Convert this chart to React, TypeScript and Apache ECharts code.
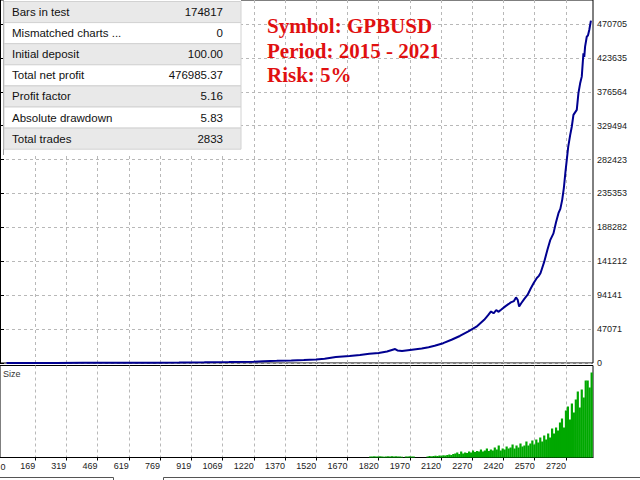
import React, { useEffect, useRef } from "react";
import * as echarts from "echarts";

// ---- data ----
const statLabels = [
  "Bars in test",
  "Mismatched charts ...",
  "Initial deposit",
  "Total net profit",
  "Profit factor",
  "Absolute drawdown",
  "Total trades",
];
const statValues = ["174817", "0", "100.00", "476985.37", "5.16", "5.83", "2833"];

const titleLines = ["Symbol: GPBUSD", "Period: 2015 - 2021", "Risk: 5%"];

const yTicks = [0, 47071, 94141, 141212, 188282, 235353, 282423, 329494, 376564, 423635, 470705];
const xTicks = [169, 319, 469, 619, 769, 919, 1069, 1220, 1370, 1520, 1670, 1820, 1970, 2120, 2270, 2420, 2570, 2720];
const xFirstLabel = "0";

// balance curve: trade number / balance
const eqTrades = [
  31, 150, 269, 400, 506, 620, 744, 860, 982, 1100, 1219, 1267, 1330, 1400, 1460, 1519, 1560, 1614,
  1680, 1730, 1775, 1820, 1860, 1899, 1910, 1932, 1980, 2027, 2060, 2089, 2130, 2170, 2210, 2251,
  2290, 2327, 2345, 2360, 2372, 2385, 2395, 2408, 2430, 2445, 2455, 2470, 2480, 2488, 2495, 2505,
  2520, 2536, 2550, 2565, 2580, 2590, 2598, 2615, 2631, 2645, 2660, 2672, 2684, 2693, 2702, 2710,
  2717, 2731, 2740, 2748, 2756, 2764, 2772, 2780, 2788, 2796, 2804, 2808, 2812, 2820, 2826, 2832, 2840,
];
const eqValues = [
  100, 120, 150, 210, 280, 380, 520, 700, 950, 1300, 1800, 2600, 3000, 3500, 4200, 5000, 6000, 8300,
  9800, 11200, 12900, 14000, 16000, 19400, 17500, 16600, 18500, 20200, 22000, 24000, 27500, 32300, 37500, 43800,
  50500, 60000, 66000, 71600, 69000, 73500, 71000, 73900, 79000, 82000, 84100, 86000, 91000, 87800, 78500, 83000,
  89000, 94800, 103000, 111000, 118000, 121000, 125000, 140000, 157200, 171000, 180000, 195000, 208000, 214000, 226500, 243000,
  263600, 300500, 316000, 328000, 344500, 348000, 351400, 374600, 388000, 397600, 430000, 425000, 439200, 453000, 455000, 462400, 475300,
];

// lot sizes, one bar every sizeStep trades starting at sizeStart
const sizeStart = 1770;
const sizeStep = 9.5;
const sizeValues = [
  0, 1, 1, 1.2, 1, 1, 1.2, 1, 0.8, 1, 1.2, 1, 1.3, 1, 1.2, 1, 1, 0.8, 0, 1, 1, 1.2, 1, 1, 0,
  0, 0, 0, 0, 0, 1, 1.5, 1.2, 1.5, 1.8, 1.5, 2, 1.8, 2.2, 2, 2.5, 3, 2.5, 3.5, 4, 5, 3.5, 6, 4, 5,
  4.5, 6, 5, 7, 5.5, 6.5, 6, 8, 6, 7, 9, 6.5, 8, 7, 10, 8, 12, 7, 9, 8, 11, 9, 10, 13, 9, 12, 10,
  14, 11, 12, 16, 12, 14, 17, 13, 18, 15, 20, 16, 22, 18, 24, 20, 29, 24, 30, 27, 35, 39, 30, 47,
  51, 38, 54, 45, 58, 66, 50, 68, 60, 77, 77, 70, 85,
];

const FONT = "'Liberation Sans', Arial, sans-serif";

function buildGraphic() {
  const rowH = 21.1;
  const top = 1.5;
  const els: any[] = [];
  els.push({
    type: "rect",
    shape: { x: 3, y: 0, width: 238, height: 154 },
    style: { fill: "#ffffff" },
    z: 100,
  });
  els.push({
    type: "line",
    shape: { x1: 3.5, y1: 0, x2: 3.5, y2: 155 },
    style: { stroke: "#9a9a9a", lineWidth: 1 },
    z: 101,
  });
  statLabels.forEach((lab, i) => {
    const y = top + i * rowH;
    els.push({
      type: "rect",
      shape: { x: 4, y, width: 237, height: rowH },
      style: { fill: i % 2 === 0 ? "#e9e9e9" : "#ffffff", stroke: "#d2d2d2", lineWidth: 1 },
      z: 101,
    });
    els.push({
      type: "text",
      x: 12,
      y: y + rowH / 2,
      style: { text: lab, fill: "#111", font: `11.5px ${FONT}`, verticalAlign: "middle", align: "left" },
      z: 102,
    });
    els.push({
      type: "text",
      x: 223,
      y: y + rowH / 2,
      style: { text: statValues[i], fill: "#111", font: `11.5px ${FONT}`, verticalAlign: "middle", align: "right" },
      z: 102,
    });
  });
  titleLines.forEach((t, i) => {
    els.push({
      type: "text",
      x: 267,
      y: 26.3 + i * 24.4,
      style: {
        text: t,
        fill: "#e01010",
        font: `bold 21px 'Liberation Serif', 'Times New Roman', serif`,
        verticalAlign: "middle",
        align: "left",
      },
      z: 102,
    });
  });
  els.push({
    type: "text",
    x: 3,
    y: 374,
    style: { text: "Size", fill: "#333", font: `9px ${FONT}`, verticalAlign: "middle", align: "left" },
    z: 102,
  });
  els.push({
    type: "text",
    x: 0.5,
    y: 467,
    style: { text: xFirstLabel, fill: "#222", font: `9px ${FONT}`, verticalAlign: "middle", align: "left" },
    z: 102,
  });
  // bottom tab outlines
  els.push({
    type: "polyline",
    shape: { points: [[0, 477.5], [113.5, 477.5], [113.5, 481]] },
    style: { stroke: "#555", lineWidth: 1, fill: "none" },
    z: 102,
  });
  els.push({
    type: "polyline",
    shape: { points: [[163.5, 481], [163.5, 477.5], [640, 477.5]] },
    style: { stroke: "#555", lineWidth: 1, fill: "none" },
    z: 102,
  });
  return els;
}

const splitLine = {
  show: true,
  lineStyle: { color: "#b8b8b8", type: [3, 3] as any, width: 1 },
};

export default function App() {
  const ref = useRef<HTMLDivElement>(null);
  useEffect(() => {
    if (!ref.current) return;
    const chart = echarts.init(ref.current, undefined, { renderer: "svg" });
    const option: any = {
      animation: false,
      backgroundColor: "#ffffff",
      grid: [
        { left: -7, top: 0, width: 600, height: 363, show: true, borderColor: "#000", borderWidth: 1, backgroundColor: "transparent" },
        { left: -7, top: 365.5, width: 600, height: 92, show: true, borderColor: "#000", borderWidth: 1, backgroundColor: "transparent" },
      ],
      xAxis: [
        {
          type: "value",
          gridIndex: 0,
          min: 0,
          max: 2850,
          axisLine: { show: false },
          axisTick: { show: false, customValues: xTicks },
          axisLabel: { show: false, customValues: xTicks },
          splitLine,
        },
        {
          type: "value",
          gridIndex: 1,
          min: 0,
          max: 2850,
          axisLine: { show: true, lineStyle: { color: "#000" } },
          axisTick: { show: true, customValues: xTicks, length: 3, lineStyle: { color: "#000" } },
          axisLabel: {
            show: true,
            customValues: xTicks,
            formatter: (v: number) => String(v),
            align: "right",
            margin: 4,
            color: "#222",
            fontSize: 9,
            fontFamily: FONT,
          },
          splitLine,
        },
      ],
      yAxis: [
        {
          type: "value",
          gridIndex: 0,
          position: "right",
          min: 0,
          max: 504000,
          axisLine: { show: true, lineStyle: { color: "#000" } },
          axisTick: { show: true, customValues: yTicks, length: 4, lineStyle: { color: "#000" } },
          axisLabel: {
            customValues: yTicks,
            formatter: (v: number) => String(v),
            margin: 4,
            color: "#222",
            fontSize: 9,
            fontFamily: FONT,
          },
          splitLine,
        },
        {
          type: "value",
          gridIndex: 1,
          min: 0,
          max: 92,
          show: false,
          splitLine: { show: false },
        },
      ],
      series: [
        {
          type: "bar",
          xAxisIndex: 1,
          yAxisIndex: 1,
          data: sizeValues.map((v, i) => [sizeStart + i * sizeStep, v]),
          barWidth: 2.2,
          itemStyle: { color: "#00a800" },
          z: 3,
        },
        {
          type: "line",
          xAxisIndex: 0,
          yAxisIndex: 0,
          data: eqTrades.map((t, i) => [t, eqValues[i]]),
          showSymbol: false,
          symbol: "none",
          lineStyle: { color: "#000090", width: 2 },
          z: 3,
        },
      ],
      graphic: { elements: buildGraphic() },
    };
    chart.setOption(option);
    return () => chart.dispose();
  }, []);
  return (
    <div
      ref={ref}
      style={{ position: "fixed", left: 0, top: 0, width: 640, height: 480, background: "#fff" }}
    />
  );
}
